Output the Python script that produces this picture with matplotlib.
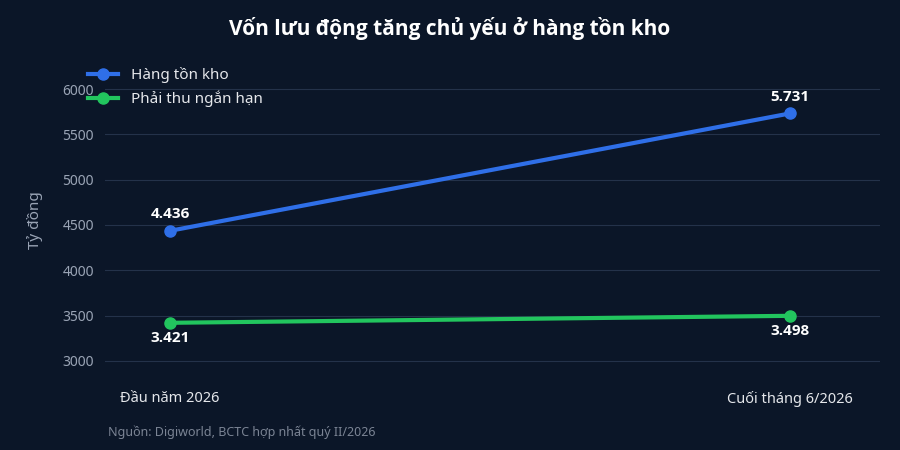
import matplotlib
matplotlib.use("Agg")
import matplotlib.pyplot as plt

plt.rcParams['font.family'] = ['Noto Sans', 'DejaVu Sans']
BOLD = ['Open Sans', 'Noto Sans', 'DejaVu Sans']

periods = ["Đầu năm 2026", "Cuối tháng 6/2026"]
hang_ton_kho = [4436, 5731]
phai_thu = [3421, 3498]
labels_htk = ["4.436", "5.731"]
labels_pt = ["3.421", "3.498"]
yticks = [3000, 3500, 4000, 4500, 5000, 5500, 6000]

bg = "#0b1628"
fig = plt.figure(figsize=(9, 4.5), dpi=100, facecolor=bg)
ax = fig.add_axes([105/900, 1-380/450, 775/900, 320/450], facecolor=bg)
x = list(range(len(periods)))
ax.plot(x, hang_ton_kho, color="#2f6fe8", lw=3, marker="o", ms=8, label="Hàng tồn kho")
ax.plot(x, phai_thu, color="#22c55e", lw=3, marker="o", ms=8, label="Phải thu ngắn hạn")
for xi, v, t in zip(x, hang_ton_kho, labels_htk):
    ax.annotate(t, (xi, v), xytext=(0, 7), textcoords="offset points", ha="center", va="bottom",
                color="white", fontsize=11, fontweight="bold", family=BOLD)
for xi, v, t in zip(x, phai_thu, labels_pt):
    ax.annotate(t, (xi, v), xytext=(0, -6), textcoords="offset points", ha="center", va="top",
                color="white", fontsize=11, fontweight="bold", family=BOLD)
ax.set_xlim(-0.105, 1.145)
ax.set_ylim(2790, 6320)
ax.set_yticks(yticks)
ax.set_xticks(x)
ax.set_xticklabels(periods)
ax.grid(axis="y", color="#24324a", lw=0.8)
ax.set_axisbelow(True)
for s in ax.spines.values():
    s.set_visible(False)
ax.tick_params(axis="y", colors="#9aa4b5", labelsize=10, length=0, pad=8)
ax.tick_params(axis="x", colors="#e5e7eb", labelsize=10.5, length=0, pad=8)
ax.set_ylabel("Tỷ đồng", color="#9aa4b5", fontsize=11, labelpad=14)
leg = ax.legend(loc="upper left", bbox_to_anchor=(-0.04, 1.02), frameon=False, fontsize=11,
                labelcolor="#e5e7eb", handlelength=2.0)
fig.text(0.5, 1-28/450, "Vốn lưu động tăng chủ yếu ở hàng tồn kho", ha="center", va="center",
         color="white", fontsize=15, fontweight="bold", family=BOLD)
fig.text(108/900, 1-432/450, "Nguồn: Digiworld, BCTC hợp nhất quý II/2026", ha="left", va="center",
         color="#7b8494", fontsize=9)
fig.savefig("out.png", dpi=100, facecolor=bg)
